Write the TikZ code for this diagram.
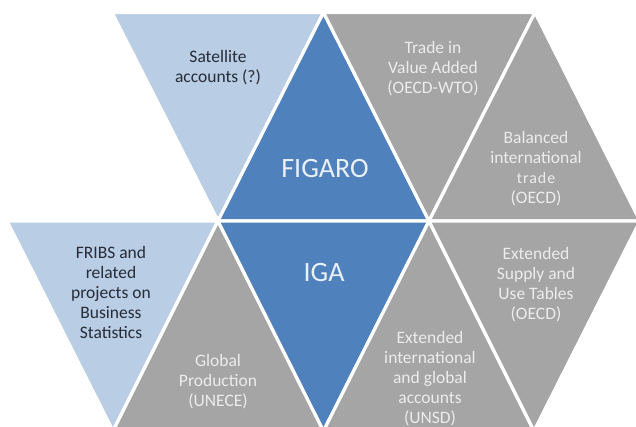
\documentclass[tikz,border=0pt]{standalone}
\usepackage{fontspec}
\setmainfont{Carlito}
\definecolor{lightblue}{RGB}{185,205,228}
\definecolor{midblue}{RGB}{79,129,189}
\definecolor{midgray}{RGB}{165,165,165}
\definecolor{darktxt}{RGB}{38,44,56}
\definecolor{graytxt}{RGB}{236,236,236}
\definecolor{bluetxt}{RGB}{234,240,248}
\begin{document}
\begin{tikzpicture}[x=1pt,y=-1pt,
  tri/.style={draw=white,line width=3.2pt,line join=round},
  lightpart/.style={tri,fill=lightblue},
  bluepart/.style={tri,fill=midblue},
  graypart/.style={tri,fill=midgray},
  lbl/.style={align=center,inner sep=0pt,font=\fontsize{17.5}{20}\selectfont},
  darklbl/.style={lbl,text=darktxt},
  graylbl/.style={lbl,text=graytxt},
  biglbl/.style={inner sep=0pt,text=bluetxt,font=\fontsize{28}{32}\selectfont}]
\useasboundingbox (0,0) rectangle (636,427);
\clip (0,0) rectangle (636,427);
% vertices
\coordinate (T1) at (112,12.5);
\coordinate (T2) at (323.5,12.5);
\coordinate (T3) at (535,12.5);
\coordinate (M0) at (7,221);
\coordinate (M2) at (218,221);
\coordinate (M4) at (429,221);
\coordinate (M6) at (640,221);
\coordinate (B1) at (113,431);
\coordinate (B3) at (323.5,431);
\coordinate (B5) at (534,431);
% top row
\path[lightpart] (T1) -- (T2) -- (M2) -- cycle;
\path[bluepart] (T2) -- (M4) -- (M2) -- cycle;
\path[graypart] (T2) -- (T3) -- (M4) -- cycle;
\path[graypart] (T3) -- (M6) -- (M4) -- cycle;
% bottom row
\path[lightpart] (M0) -- (M2) -- (B1) -- cycle;
\path[graypart] (M2) -- (B3) -- (B1) -- cycle;
\path[bluepart] (M2) -- (M4) -- (B3) -- cycle;
\path[graypart] (M4) -- (B5) -- (B3) -- cycle;
\path[graypart] (M4) -- (M6) -- (B5) -- cycle;
% labels
\node[darklbl] (sat) at (218,68) {Satellite\\accounts (?)};
\node[biglbl] (figaro) at (325,169) {FIGARO};
\node[graylbl] (tiva) at (433,69) {Trade in\\Value Added\\(OECD-WTO)};
\node[graylbl] (bal) at (536,169) {Balanced\\international\\{\fontsize{16}{20}\selectfont\addfontfeatures{LetterSpace=6}trade}\\(OECD)};
\node[darklbl] (fribs) at (111,292) {FRIBS and\\related\\projects on\\Business\\Statistics};
\node[biglbl] (iga) at (324,273) {IGA};
\node[graylbl] (glob) at (218,382) {Global\\Production\\(UNECE)};
\node[graylbl] (extint) at (430,379) {Extended\\international\\and global\\accounts\\(UNSD)};
\node[graylbl] (extsut) at (536,285) {Extended\\Supply and\\Use Tables\\(OECD)};
\end{tikzpicture}
\end{document}
